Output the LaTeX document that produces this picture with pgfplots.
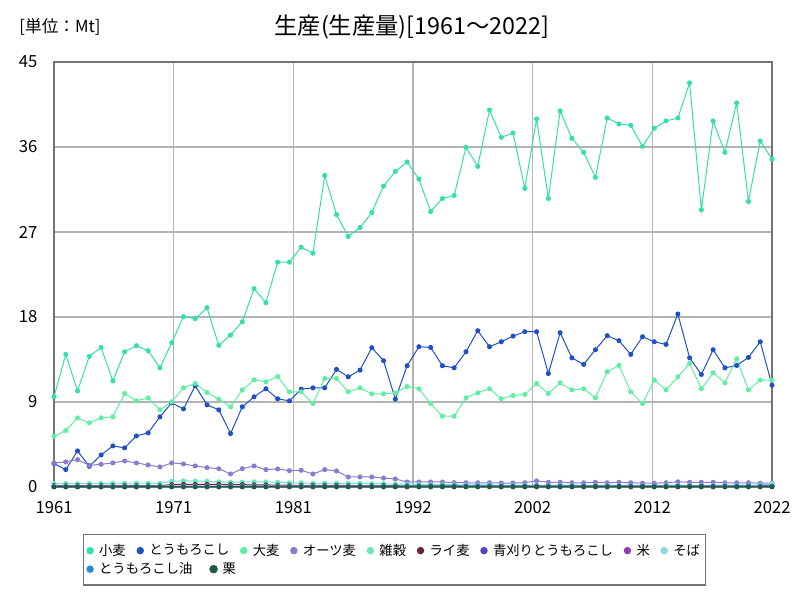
\documentclass[border=0pt]{standalone}
\usepackage{fontspec}
\setmainfont{Noto Sans CJK JP}
\usepackage{pgfplots}
\pgfplotsset{compat=1.18}
\usepackage{pgfplotstable}
\definecolor{cwheat}{HTML}{33E0AA}
\definecolor{ccorn}{HTML}{1F50C8}
\definecolor{cbarley}{HTML}{60EFA2}
\definecolor{coats}{HTML}{8C7AD0}
\definecolor{cmillet}{HTML}{66E8C4}
\definecolor{crye}{HTML}{6E1F3C}
\definecolor{cgreen}{HTML}{5A3FC8}
\definecolor{crice}{HTML}{8A3FB5}
\definecolor{cbuck}{HTML}{8ED8E0}
\definecolor{coil}{HTML}{2A8AD0}
\definecolor{cchest}{HTML}{1F5A45}
\definecolor{gridc}{HTML}{B4B4B4}
\definecolor{framec}{HTML}{747474}
\pgfplotstableread{
year wheat corn barley oats millet rye green rice buck oil chest
1961 9.55 2.48 5.37 2.55 0.35 0.15 0.05 0.05 0.10 0.03 0.01
1962 14.04 1.84 5.98 2.65 0.38 0.15 0.05 0.05 0.10 0.03 0.01
1963 10.18 3.82 7.32 2.90 0.35 0.15 0.05 0.05 0.10 0.03 0.01
1964 13.83 2.19 6.79 2.30 0.36 0.15 0.05 0.05 0.10 0.03 0.01
1965 14.78 3.39 7.32 2.40 0.38 0.16 0.05 0.05 0.10 0.03 0.01
1966 11.24 4.35 7.43 2.55 0.40 0.16 0.05 0.05 0.10 0.03 0.01
1967 14.32 4.14 9.90 2.76 0.42 0.16 0.05 0.05 0.10 0.04 0.01
1968 14.96 5.41 9.12 2.55 0.42 0.16 0.05 0.05 0.10 0.04 0.01
1969 14.43 5.73 9.44 2.33 0.40 0.15 0.05 0.05 0.10 0.04 0.01
1970 12.62 7.43 8.17 2.12 0.38 0.15 0.05 0.05 0.10 0.04 0.01
1971 15.28 8.91 9.02 2.55 0.60 0.25 0.06 0.06 0.10 0.05 0.01
1972 18.03 8.27 10.50 2.44 0.65 0.28 0.06 0.06 0.10 0.05 0.01
1973 17.82 10.71 10.96 2.23 0.62 0.28 0.06 0.06 0.10 0.05 0.01
1974 18.99 8.70 10.01 2.05 0.60 0.28 0.06 0.06 0.10 0.05 0.01
1975 14.99 8.17 9.30 1.94 0.55 0.28 0.06 0.06 0.10 0.05 0.01
1976 16.09 5.66 8.49 1.38 0.50 0.25 0.06 0.06 0.10 0.05 0.01
1977 17.50 8.49 10.29 1.94 0.52 0.25 0.06 0.06 0.10 0.05 0.01
1978 21.00 9.55 11.35 2.23 0.55 0.22 0.06 0.06 0.10 0.06 0.01
1979 19.52 10.40 11.14 1.84 0.55 0.22 0.06 0.06 0.10 0.06 0.01
1980 23.80 9.34 11.70 1.91 0.50 0.20 0.06 0.06 0.10 0.06 0.01
1981 23.80 9.12 10.08 1.73 0.45 0.18 0.07 0.07 0.10 0.06 0.01
1982 25.39 10.36 10.08 1.77 0.45 0.18 0.07 0.07 0.10 0.06 0.01
1983 24.75 10.50 8.84 1.38 0.40 0.18 0.07 0.07 0.10 0.06 0.01
1984 32.99 10.50 11.49 1.84 0.42 0.18 0.07 0.07 0.10 0.07 0.01
1985 28.85 12.45 11.49 1.70 0.40 0.18 0.07 0.07 0.10 0.07 0.01
1986 26.52 11.67 10.08 1.06 0.38 0.15 0.07 0.07 0.10 0.07 0.01
1987 27.47 12.38 10.50 1.06 0.40 0.15 0.07 0.07 0.10 0.07 0.01
1988 29.07 14.75 9.87 1.06 0.35 0.15 0.07 0.07 0.10 0.07 0.01
1989 31.86 13.37 9.87 0.95 0.35 0.15 0.07 0.07 0.10 0.07 0.01
1990 33.42 9.30 9.97 0.85 0.30 0.14 0.07 0.07 0.10 0.07 0.01
1991 34.41 12.84 10.64 0.53 0.30 0.12 0.08 0.08 0.08 0.08 0.01
1992 32.60 14.85 10.40 0.53 0.28 0.12 0.08 0.08 0.08 0.08 0.01
1993 29.17 14.78 8.84 0.53 0.25 0.12 0.08 0.08 0.08 0.08 0.01
1994 30.55 12.84 7.50 0.53 0.25 0.12 0.08 0.08 0.08 0.08 0.01
1995 30.87 12.62 7.50 0.46 0.25 0.12 0.08 0.08 0.08 0.08 0.01
1996 35.96 14.32 9.44 0.45 0.22 0.10 0.08 0.08 0.08 0.08 0.01
1997 33.95 16.55 9.97 0.45 0.22 0.10 0.08 0.08 0.08 0.08 0.01
1998 39.92 14.85 10.40 0.45 0.22 0.10 0.08 0.08 0.08 0.08 0.01
1999 37.02 15.38 9.34 0.42 0.20 0.10 0.08 0.08 0.08 0.08 0.01
2000 37.48 15.98 9.69 0.42 0.20 0.10 0.08 0.08 0.08 0.08 0.01
2001 31.61 16.44 9.80 0.45 0.20 0.10 0.08 0.08 0.08 0.08 0.01
2002 38.97 16.44 10.96 0.65 0.18 0.10 0.08 0.10 0.08 0.08 0.01
2003 30.55 12.02 9.90 0.50 0.20 0.10 0.08 0.10 0.08 0.08 0.01
2004 39.82 16.34 11.03 0.50 0.20 0.10 0.08 0.10 0.08 0.08 0.01
2005 36.92 13.68 10.29 0.45 0.20 0.10 0.08 0.10 0.08 0.08 0.01
2006 35.43 12.98 10.40 0.45 0.18 0.10 0.08 0.10 0.08 0.08 0.01
2007 32.78 14.53 9.44 0.50 0.18 0.10 0.08 0.10 0.08 0.08 0.01
2008 39.07 16.02 12.20 0.45 0.20 0.10 0.08 0.10 0.08 0.08 0.01
2009 38.44 15.49 12.87 0.50 0.18 0.10 0.08 0.10 0.08 0.08 0.01
2010 38.30 14.04 10.08 0.45 0.18 0.10 0.08 0.10 0.08 0.08 0.01
2011 36.07 15.91 8.84 0.40 0.18 0.10 0.08 0.10 0.08 0.08 0.01
2012 37.98 15.38 11.32 0.40 0.18 0.10 0.08 0.10 0.08 0.08 0.01
2013 38.76 15.10 10.29 0.45 0.18 0.10 0.08 0.10 0.08 0.08 0.01
2014 39.07 18.32 11.67 0.55 0.20 0.10 0.08 0.10 0.08 0.08 0.01
2015 42.79 13.68 13.08 0.50 0.18 0.08 0.08 0.10 0.08 0.08 0.01
2016 29.35 11.92 10.40 0.50 0.18 0.08 0.08 0.10 0.08 0.08 0.01
2017 38.76 14.53 12.09 0.50 0.18 0.08 0.08 0.10 0.08 0.08 0.01
2018 35.43 12.62 11.03 0.45 0.20 0.08 0.08 0.10 0.08 0.08 0.01
2019 40.66 12.87 13.58 0.45 0.18 0.08 0.08 0.10 0.08 0.08 0.01
2020 30.23 13.72 10.29 0.45 0.20 0.10 0.08 0.10 0.08 0.10 0.01
2021 36.63 15.38 11.32 0.40 0.20 0.15 0.10 0.10 0.20 0.10 0.01
2022 34.72 10.78 11.32 0.40 0.35 0.20 0.10 0.10 0.35 0.10 0.01
}\data
\begin{document}
\begin{tikzpicture}
\path[use as bounding box] (0pt,0pt) rectangle (600pt,450pt);
\node at (309pt,429.5pt) {\fontsize{17.5}{19}\selectfont 生産(生産量)[1961～2022]};
\node at (45pt,429.5pt) {\fontsize{12.5}{14}\selectfont [単位：Mt]};
\begin{axis}[
  at={(40.5pt,84.75pt)}, anchor=south west,
  scale only axis, width=538.5pt, height=318.75pt,
  xmin=1961, xmax=2022, ymin=0, ymax=45,
  xtick={1961,1971.1667,1981.3333,1991.5,2001.6667,2011.8333,2022},
  xticklabels={1961,1971,1981,1992,2002,2012,2022},
  ytick={0,9,18,27,36,45},
  yticklabels={0,9,18,27,36,45},
  major tick length=0pt,
  grid=major,
  major grid style={draw=gridc, line width=1.1pt},
  axis line style={draw=framec, line width=1.4pt},
  tick label style={font=\fontsize{12.5}{14}\selectfont},
  xticklabel style={yshift=-7pt},
  yticklabel style={xshift=-9pt},
  every axis plot/.append style={line width=0.75pt, mark=*, mark size=1.5pt},
  legend image code/.code={\fill[#1,draw=none] (0.1cm,0cm) circle (2.8pt);},
  legend cell align=left,
  legend style={at={(0.0404,-0.1106)}, anchor=north west, draw=framec, line width=1pt,
    font=\fontsize{10}{11}\selectfont, legend columns=9,
    /tikz/every odd column/.append style={column sep=2pt},
    /tikz/every even column/.append style={column sep=6pt},
    inner xsep=2pt, inner ysep=5pt, row sep=0pt},
]
\addplot[cwheat] table[x=year,y=wheat]{\data};
\addlegendentry{小麦}
\addplot[ccorn] table[x=year,y=corn]{\data};
\addlegendentry{とうもろこし}
\addplot[cbarley] table[x=year,y=barley]{\data};
\addlegendentry{大麦}
\addplot[coats] table[x=year,y=oats]{\data};
\addlegendentry{オーツ麦}
\addplot[cmillet] table[x=year,y=millet]{\data};
\addlegendentry{雑穀}
\addplot[crye] table[x=year,y=rye]{\data};
\addlegendentry{ライ麦}
\addplot[cgreen] table[x=year,y=green]{\data};
\addlegendentry{青刈りとうもろこし}
\addplot[crice] table[x=year,y=rice]{\data};
\addlegendentry{米}
\addplot[cbuck] table[x=year,y=buck]{\data};
\addlegendentry{そば}
\addplot[coil] table[x=year,y=oil]{\data};
\addlegendentry{\makebox[0pt][l]{とうもろこし油}}
\addplot[cchest, legend image code/.code={\fill[cchest,overlay] (0.1cm+55pt,0cm) circle (2.8pt);}] table[x=year,y=chest]{\data};
\addlegendentry{\makebox[0pt][l]{\hspace{55pt}栗}}
\end{axis}
\end{tikzpicture}
\end{document}
